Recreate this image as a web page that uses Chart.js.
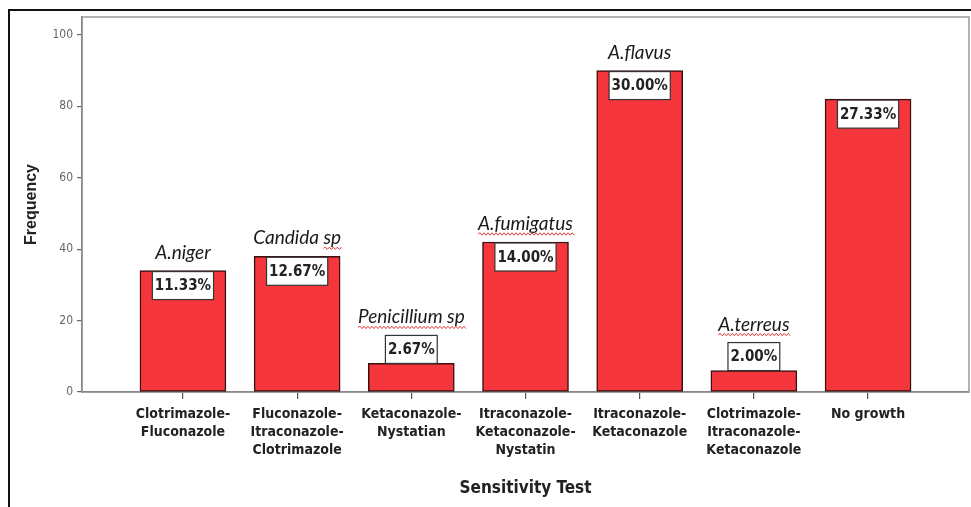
<!DOCTYPE html>
<html>
<head>
<meta charset="utf-8">
<script src="https://cdn.jsdelivr.net/npm/chart.js@4"></script>
<style>
  html, body { margin: 0; padding: 0; background: #fff; }
  #wrap { position: relative; width: 971px; height: 507px; overflow: hidden; }
  #frame { position: absolute; left: 8px; top: 9px; width: 980px; height: 520px;
           border-top: 2px solid #111; border-left: 2px solid #111; }
  canvas { position: absolute; left: 0; top: 0; }
</style>
</head>
<body>
<div id="wrap">
  <div id="frame"></div>
  <canvas id="barChart" width="971" height="507"></canvas>
</div>
<script>
// data
var testNames = [
  ["Clotrimazole-", "Fluconazole"],
  ["Fluconazole-", "Itraconazole-", "Clotrimazole"],
  ["Ketaconazole-", "Nystatian"],
  ["Itraconazole-", "Ketaconazole-", "Nystatin"],
  ["Itraconazole-", "Ketaconazole"],
  ["Clotrimazole-", "Itraconazole-", "Ketaconazole"],
  ["No growth"]
];
var frequency = [34, 38, 8, 42, 90, 6, 82];
var percentLabels = ["11.33%", "12.67%", "2.67%", "14.00%", "30.00%", "2.00%", "27.33%"];
var organisms = ["A.niger", "Candida sp", "Penicillium sp", "A.fumigatus", "A.flavus", "A.terreus", ""];
// which part of the organism name has the red spell-check squiggle
var squiggle = ["", "sp", "Penicillium sp", "A.fumigatus", "", "A.terreus", ""];
var yTicks = [0, 20, 40, 60, 80, 100];

var narrow = "'Liberation Sans Narrow', 'DejaVu Sans Condensed', sans-serif";

var barPoints = frequency.map(function (v, i) { return { x: i + 1, y: v }; });

// grey box round the plot
var plotFrame = {
  id: "plotFrame",
  beforeDatasetsDraw: function (chart) {
    var a = chart.chartArea, ctx = chart.ctx;
    ctx.save();
    ctx.strokeStyle = "#9a9a9a";
    ctx.lineWidth = 1.5;
    ctx.strokeRect(a.left, a.top, a.right - a.left, a.bottom - a.top);
    ctx.restore();
  }
};

function wavy(ctx, x1, x2, y) {
  ctx.beginPath();
  ctx.moveTo(x1, y);
  var up = true;
  for (var x = x1; x < x2; x += 2) {
    ctx.lineTo(x + 2, up ? y - 1.2 : y + 1.2);
    up = !up;
  }
  ctx.stroke();
}

// percentage boxes and organism names
var barLabels = {
  id: "barLabels",
  afterDatasetsDraw: function (chart) {
    var ctx = chart.ctx;
    var meta = chart.getDatasetMeta(0);
    var base = chart.scales.y.getPixelForValue(0);
    ctx.save();
    meta.data.forEach(function (bar, i) {
      var top = bar.y;
      ctx.font = "bold 15px " + narrow;
      var tw = ctx.measureText(percentLabels[i]).width;
      var bw = tw + 5, bh = 28;
      var boxTop = (base - top > 60) ? top + 1 : top - bh;
      ctx.fillStyle = "#fff";
      ctx.fillRect(bar.x - bw / 2, boxTop, bw, bh);
      ctx.strokeStyle = "#333";
      ctx.lineWidth = 1.2;
      ctx.strokeRect(bar.x - bw / 2, boxTop, bw, bh);
      ctx.fillStyle = "#222";
      ctx.textAlign = "center";
      ctx.textBaseline = "middle";
      ctx.fillText(percentLabels[i], bar.x, boxTop + bh / 2 + 1);

      if (!organisms[i]) return;
      var nameTop = Math.min(top, boxTop);
      var baseY = nameTop - 12;
      ctx.font = "italic 19px Lato, 'Open Sans', sans-serif";
      ctx.textBaseline = "alphabetic";
      ctx.fillStyle = "#1a1a1a";
      ctx.fillText(organisms[i], bar.x, baseY);
      if (squiggle[i]) {
        var full = ctx.measureText(organisms[i]).width;
        var startX = bar.x - full / 2;
        var idx = organisms[i].indexOf(squiggle[i]);
        var x1 = startX + ctx.measureText(organisms[i].slice(0, idx)).width;
        var x2 = x1 + ctx.measureText(squiggle[i]).width;
        ctx.strokeStyle = "#e03a3a";
        ctx.lineWidth = 1;
        wavy(ctx, x1, x2, baseY + 4);
      }
    });
    ctx.restore();
  }
};

var ctx = document.getElementById("barChart").getContext("2d");
var myChart = new Chart(ctx, {
  type: "bar",
  data: {
    datasets: [{
      label: "Frequency",
      data: barPoints,
      backgroundColor: "#f6363d",
      borderColor: "#3a1010",
      borderWidth: 1.5,
      borderSkipped: false,
      barThickness: 86
    }]
  },
  options: {
    responsive: false,
    animation: false,
    events: [],
    layout: { padding: { left: 0, top: 17, right: 2, bottom: 4 } },
    plugins: { legend: { display: false }, tooltip: { enabled: false } },
    scales: {
      x: {
        type: "linear",
        offset: false,
        min: 0.116,
        max: 7.884,
        afterBuildTicks: function (scale) {
          scale.ticks = testNames.map(function (n, i) { return { value: i + 1 }; });
        },
        afterFit: function (scale) { scale.height = 111; },
        grid: { offset: false, drawOnChartArea: false, tickLength: 7, color: "#555", lineWidth: 1.2 },
        border: { display: true, color: "#555", width: 1.5 },
        ticks: {
          autoSkip: false,
          maxRotation: 0,
          padding: 6,
          color: "#222",
          font: { family: narrow, size: 14, weight: "bold", lineHeight: 1.3 },
          callback: function (value) { return testNames[value - 1]; }
        },
        title: {
          display: true,
          text: "Sensitivity Test",
          color: "#222",
          font: { family: narrow, size: 17, weight: "bold" },
          padding: { top: 0, bottom: 4 }
        }
      },
      y: {
        min: 0,
        max: 105,
        afterBuildTicks: function (scale) {
          scale.ticks = yTicks.map(function (v) { return { value: v }; });
        },
        afterFit: function (scale) { scale.width = 82; },
        grid: { drawOnChartArea: false, tickLength: 5, color: "#666", lineWidth: 1.2 },
        border: { display: true, color: "#555", width: 1.5 },
        ticks: {
          padding: 4,
          color: "#666",
          font: { family: narrow, size: 12 }
        },
        title: {
          display: true,
          text: "Frequency",
          color: "#222",
          font: { family: "'Liberation Sans', Arial, sans-serif", size: 16, weight: "bold" },
          padding: { top: 22, bottom: 0 }
        }
      }
    }
  },
  plugins: [plotFrame, barLabels]
});
</script>
</body>
</html>
